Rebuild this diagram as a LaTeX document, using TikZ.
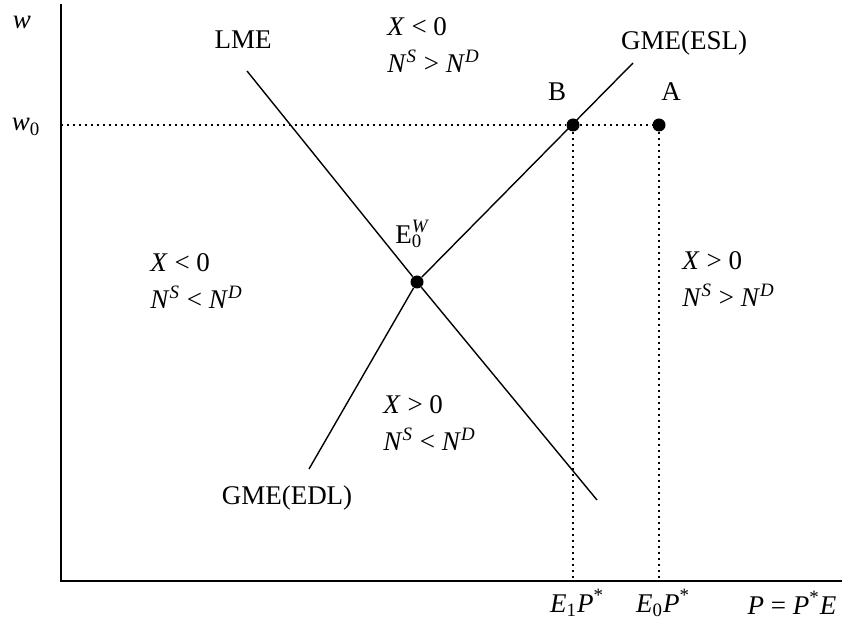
\documentclass[tikz,border=0pt]{standalone}
\usepackage{fontspec}
\setmainfont{Liberation Serif}
\usepackage{tikz}
\usetikzlibrary{positioning}
\tikzset{
  axis/.style   ={line width=1.2pt},
  curve/.style  ={line width=0.7pt},
  guide/.style  ={line width=1pt, dash pattern=on 1pt off 2pt},
  pt/.style     ={circle, fill=black, minimum size=6.5pt, inner sep=0pt},
  lbl/.style    ={font=\fontsize{13.5}{16}\selectfont, inner sep=1pt},
  region/.style ={font=\fontsize{13.5}{18.5}\selectfont, align=left,
                  anchor=west, inner sep=0pt},
}
\newcommand{\vi}[1]{\textit{#1}}
\newcommand{\sups}[1]{\textsuperscript{\itshape #1}}
\newcommand{\rel}[1]{\hspace{0.25em}#1\hspace{0.25em}}
\begin{document}
\begin{tikzpicture}[x=0.5pt, y=-0.5pt]
\useasboundingbox (0,0) rectangle (855,635);
% axes
\coordinate (o) at (61,581);
\coordinate (ytop) at (61,4);
\coordinate (xend) at (842,581);
\draw[axis] (ytop) -- (o) -- (xend);
\node[lbl] (wlab) at (22,22) {\vi{w}};
\node[lbl] (w0lab) at (26,127) {\vi{w}\textsubscript{0}};
% points
\node[pt] (E) at (417,282) {};
\node[pt] (B) at (573,125) {};
\node[pt] (A) at (659,125) {};
\coordinate (w0) at (61,125);
\coordinate (B0) at (573,581);
\coordinate (A0) at (659,581);
\draw[guide] (w0) -- (B) -- (A);
\draw[guide] (B) -- (B0);
\draw[guide] (A) -- (A0);
% curves
\coordinate (lmeT) at (247,71);
\coordinate (lmeB) at (597,500);
\coordinate (gmeT) at (633,63);
\coordinate (gmeB) at (309,469);
\draw[curve] (lmeT) -- (E) -- (lmeB);
\draw[curve] (gmeB) -- (E) -- (gmeT);
% labels
\node[lbl] (lme) at (243,40) {LME};
\node[lbl] (esl) at (684,43) {GME(ESL)};
\node[lbl] (edl) at (287,498) {GME(EDL)};
\node[lbl] (blab) at (557,92) {B};
\node[lbl] (alab) at (671,92) {A};
\node[lbl] (elab) at (412,234) {E\rlap{\textsubscript{0}}\sups{W}};
\node[region] (rtop) at (387,45) {\vi{X}\rel{<}0\\\vi{N}\sups{S}\rel{>}\vi{N}\sups{D}};
\node[region] (rleft) at (150,281) {\vi{X}\rel{<}0\\\vi{N}\sups{S}\rel{<}\vi{N}\sups{D}};
\node[region] (rright) at (682,279) {\vi{X}\rel{>}0\\\vi{N}\sups{S}\rel{>}\vi{N}\sups{D}};
\node[region] (rbot) at (383,423) {\vi{X}\rel{>}0\\\vi{N}\sups{S}\rel{<}\vi{N}\sups{D}};
\node[lbl] (e1) at (577,603) {\vi{E}\textsubscript{1}\vi{P}\textsuperscript{*}};
\node[lbl] (e0) at (663,603) {\vi{E}\textsubscript{0}\vi{P}\textsuperscript{*}};
\node[lbl] (pax) at (792,603) {\vi{P}\rel{=}\vi{P}\textsuperscript{*}\vi{E}};
\end{tikzpicture}
\end{document}
